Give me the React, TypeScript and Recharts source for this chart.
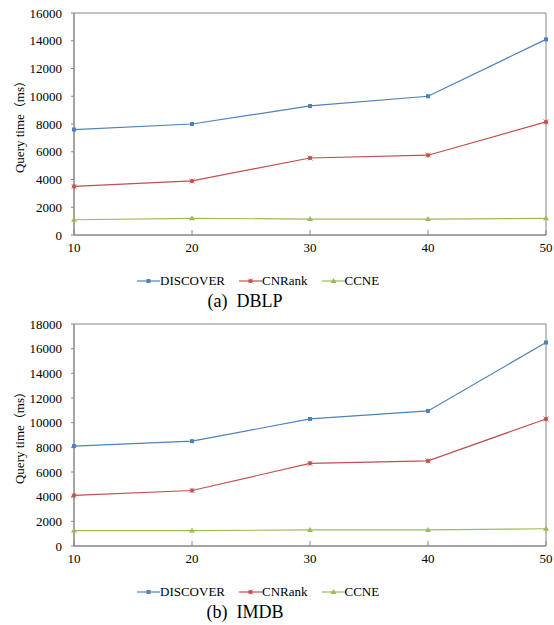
import React from "react";
import { LineChart, Line, XAxis, YAxis, Legend, ReferenceArea } from "recharts";

const sizes = [10, 20, 30, 40, 50];

const dblpDiscover = [7600, 8000, 9300, 10000, 14100];
const dblpCnrank = [3500, 3900, 5550, 5750, 8150];
const dblpCcne = [1100, 1200, 1150, 1150, 1200];

const imdbDiscover = [8100, 8500, 10300, 10950, 16500];
const imdbCnrank = [4100, 4500, 6700, 6900, 10300];
const imdbCcne = [1250, 1250, 1300, 1300, 1400];

const dblpTicks = [0, 2000, 4000, 6000, 8000, 10000, 12000, 14000, 16000];
const imdbTicks = [0, 2000, 4000, 6000, 8000, 10000, 12000, 14000, 16000, 18000];

const FONT = "'Liberation Serif', 'Times New Roman', serif";
const CJK = "'Noto Sans CJK SC', sans-serif";
const AXIS = "#868686";

const series = [
  { key: "discover", name: "DISCOVER", color: "#4F81BD", shape: "square" },
  { key: "cnrank", name: "CNRank", color: "#C0504D", shape: "star" },
  { key: "ccne", name: "CCNE", color: "#9BBB59", shape: "triangle" },
];

function Marker({ cx, cy, shape, color }: any) {
  if (cx == null || cy == null) return null;
  if (shape === "square") {
    return <rect x={cx - 2} y={cy - 2} width={4} height={4} fill={color} />;
  }
  if (shape === "triangle") {
    return <polygon points={`${cx},${cy - 3} ${cx + 3},${cy + 2} ${cx - 3},${cy + 2}`} fill={color} />;
  }
  return (
    <g fill={color}>
      <polygon points={`${cx},${cy - 2.5} ${cx + 2.5},${cy} ${cx},${cy + 2.5} ${cx - 2.5},${cy}`} />
      <line x1={cx - 2.5} y1={cy - 2.5} x2={cx + 2.5} y2={cy + 2.5} stroke={color} strokeWidth={0.8} />
      <line x1={cx + 2.5} y1={cy - 2.5} x2={cx - 2.5} y2={cy + 2.5} stroke={color} strokeWidth={0.8} />
    </g>
  );
}

// y-axis title, full-width brackets drawn in a CJK font
function YTitle({ viewBox }: any) {
  if (!viewBox) return null;
  const x = 19;
  const y = viewBox.y + viewBox.height / 2;
  return (
    <text
      x={x}
      y={y}
      transform={`rotate(-90 ${x} ${y})`}
      textAnchor="middle"
      dominantBaseline="central"
      fontFamily={FONT}
      fontSize={13}
      fill="#000"
    >
      Query time<tspan fontFamily={CJK} fontSize={12}>（</tspan>ms<tspan fontFamily={CJK} fontSize={12}>）</tspan>
    </text>
  );
}

function LegendBox() {
  return (
    <div style={{ display: "flex", alignItems: "center", paddingTop: 6, fontFamily: FONT, fontSize: 13, color: "#000" }}>
      {series.map((s) => (
        <div key={s.key} style={{ display: "flex", alignItems: "center", marginRight: 14 }}>
          <svg width={23} height={10}>
            <line x1={0} y1={5} x2={23} y2={5} stroke={s.color} strokeWidth={1.2} />
            <Marker cx={11.5} cy={5} shape={s.shape} color={s.color} />
          </svg>
          <span>{s.name}</span>
        </div>
      ))}
    </div>
  );
}

function Panel({ top, caption, discover, cnrank, ccne, ticks, max }: any) {
  const data = sizes.map((x, i) => ({ x, discover: discover[i], cnrank: cnrank[i], ccne: ccne[i] }));
  return (
    <>
      <div style={{ position: "absolute", top, left: 0 }}>
        <LineChart width={554} height={289} data={data} margin={{ top: 13, right: 8, bottom: 0, left: 0 }}>
          <XAxis
            dataKey="x"
            type="number"
            domain={[10, 50]}
            ticks={sizes}
            height={32}
            stroke={AXIS}
            tickSize={-5}
            tickMargin={13}
            tick={{ fill: "#000", fontSize: 13, fontFamily: FONT }}
          />
          <YAxis
            type="number"
            domain={[0, max]}
            ticks={ticks}
            width={74}
            stroke={AXIS}
            tickSize={3}
            tickMargin={9}
            tick={{ fill: "#000", fontSize: 13, fontFamily: FONT }}
            label={<YTitle />}
          />
          <ReferenceArea x1={10} x2={50} y1={0} y2={max} fill="none" stroke={AXIS} strokeWidth={1} />
          <Legend verticalAlign="bottom" align="left" height={22} wrapperStyle={{ left: 137, width: "auto" }} content={() => <LegendBox />} />
          {series.map((s) => (
            <Line
              key={s.key}
              dataKey={s.key}
              name={s.name}
              stroke={s.color}
              strokeWidth={1.2}
              isAnimationActive={false}
              dot={(p: any) => <Marker key={`${s.key}-${p.index}`} cx={p.cx} cy={p.cy} shape={s.shape} color={s.color} />}
              activeDot={false}
            />
          ))}
        </LineChart>
      </div>
      <div
        style={{
          position: "absolute",
          top: top + 291,
          left: 145,
          width: 200,
          textAlign: "center",
          fontFamily: FONT,
          fontSize: 18,
          whiteSpace: "pre",
        }}
      >
        {caption}
      </div>
    </>
  );
}

export default function App() {
  return (
    <div style={{ position: "absolute", top: 0, left: 0, width: 554, height: 625, background: "#fff" }}>
      <Panel top={0} caption="(a)  DBLP" discover={dblpDiscover} cnrank={dblpCnrank} ccne={dblpCcne} ticks={dblpTicks} max={16000} />
      <Panel top={311} caption="(b)  IMDB" discover={imdbDiscover} cnrank={imdbCnrank} ccne={imdbCcne} ticks={imdbTicks} max={18000} />
    </div>
  );
}
